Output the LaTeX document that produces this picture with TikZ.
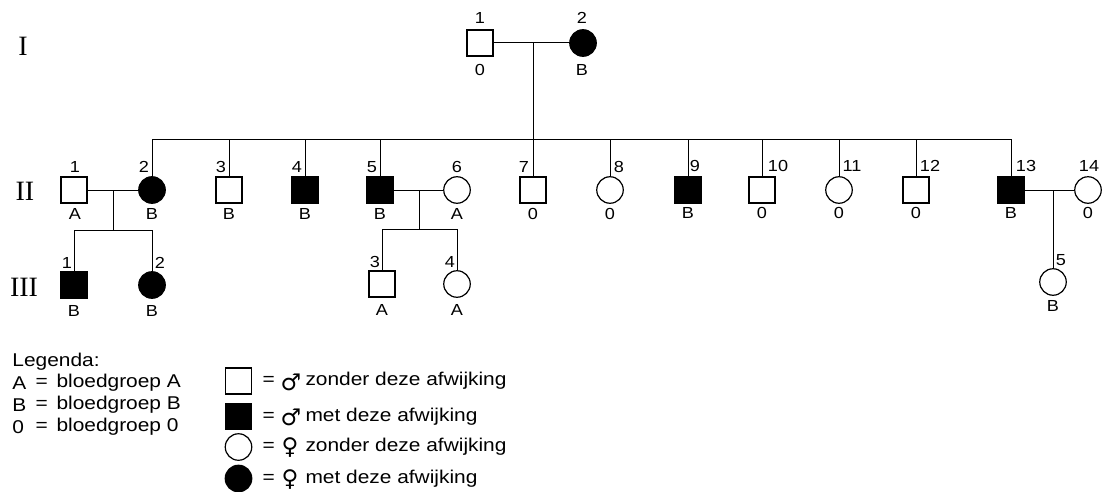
\documentclass[tikz,border=0pt]{standalone}
\usepackage{fontspec}
\setmainfont{Liberation Sans}[FakeStretch=1.13]
\newfontfamily\romfont{Liberation Serif}
\newfontfamily\symfont{DejaVu Sans}
\begin{document}
\begin{tikzpicture}[x=1pt,y=-1pt,
  line width=1pt,
  male/.style={draw,line width=1.2pt,rectangle,minimum size=26pt,inner sep=0pt,fill=white},
  female/.style={draw,line width=1.2pt,circle,minimum size=26.5pt,inner sep=0pt,fill=white},
  aff/.style={fill=black},
  num/.style={font=\fontsize{16}{16}\selectfont,inner sep=0pt},
  gen/.style={font=\romfont\fontsize{28}{28}\selectfont,inner sep=0pt},
  leg/.style={font=\fontsize{18.5}{18.5}\selectfont,inner sep=0pt,anchor=west},
  sym/.style={font=\symfont\fontsize{23}{23}\selectfont,inner sep=0pt,anchor=west},
]
\useasboundingbox (0,0) rectangle (1102,492);
\fill[white] (0,0) rectangle (1102,492);

% generation labels
\node[gen] (gI) at (23,46) {I};
\node[gen] (gII) at (25,191) {II};
\node[gen] (gIII) at (24,287) {III};

% ---------- Generation I
\node[male] (I1) at (480,43) {};
\node[female,aff] (I2) at (583,43) {};
\node[num] (nI1) at (480,18) {1};
\node[num] (bI1) at (480,70) {0};
\node[num] (nI2) at (582,18) {2};
\node[num] (bI2) at (582,70) {B};

% ---------- Generation II
\node[male] (II1) at (74,190) {};
\node[female,aff] (II2) at (152,190) {};
\node[male] (II3) at (229,190) {};
\node[male,aff] (II4) at (305,190) {};
\node[male,aff] (II5) at (380,190) {};
\node[female] (II6) at (457,190) {};
\node[male] (II7) at (533,190) {};
\node[female] (II8) at (610,190) {};
\node[male,aff] (II9) at (688,190) {};
\node[male] (II10) at (762,190) {};
\node[female] (II11) at (839,190) {};
\node[male] (II12) at (916,190) {};
\node[male,aff] (II13) at (1011,190) {};
\node[female] (II14) at (1088,190) {};

\node[num] (nII1) at (75,167) {1};
\node[num] (nII2) at (144,167) {2};
\node[num] (nII3) at (221,167) {3};
\node[num] (nII4) at (297,167) {4};
\node[num] (nII5) at (372,167) {5};
\node[num] (nII6) at (457,167) {6};
\node[num] (nII7) at (524,167) {7};
\node[num] (nII8) at (619,167) {8};
\node[num] (nII9) at (695,166) {9};
\node[num] (nII10) at (778,166) {10};
\node[num] (nII11) at (852,166) {11};
\node[num] (nII12) at (930,166) {12};
\node[num] (nII13) at (1026,166) {13};
\node[num] (nII14) at (1089,166) {14};

\node[num] (bII1) at (75,214) {A};
\node[num] (bII2) at (152,214) {B};
\node[num] (bII3) at (229,214) {B};
\node[num] (bII4) at (305,214) {B};
\node[num] (bII5) at (380,214) {B};
\node[num] (bII6) at (457,214) {A};
\node[num] (bII7) at (533,214) {0};
\node[num] (bII8) at (610,214) {0};
\node[num] (bII9) at (688,213) {B};
\node[num] (bII10) at (762,213) {0};
\node[num] (bII11) at (839,213) {0};
\node[num] (bII12) at (916,213) {0};
\node[num] (bII13) at (1011,213) {B};
\node[num] (bII14) at (1088,213) {0};

% ---------- Generation III
\node[male,aff] (III1) at (74,285) {};
\node[female,aff] (III2) at (152,285) {};
\node[male] (III3) at (382,284) {};
\node[female] (III4) at (457,284) {};
\node[female] (III5) at (1053,282) {};

\node[num] (nIII1) at (67,263) {1};
\node[num] (nIII2) at (160,263) {2};
\node[num] (nIII3) at (375,262) {3};
\node[num] (nIII4) at (450,262) {4};
\node[num] (nIII5) at (1061,260) {5};

\node[num] (bIII1) at (74,311) {B};
\node[num] (bIII2) at (152,311) {B};
\node[num] (bIII3) at (382,310) {A};
\node[num] (bIII4) at (457,310) {A};
\node[num] (bIII5) at (1053,306) {B};

% ---------- connectors
\coordinate (mI) at (533,43);
\coordinate (sI) at (533,139);
\draw (I1.east) -- (I2.west);
\draw (mI) -- (sI);
\draw (II2.north |- sI) -- (II13.north |- sI);
\foreach \c in {II2,II3,II4,II5,II7,II8,II9,II10,II11,II12,II13}
  \draw (\c.north) -- (\c.north |- sI);

\coordinate (m12) at (113,190);
\coordinate (s12) at (113,230);
\draw (II1.east) -- (II2.west);
\draw (m12) -- (s12);
\draw (III1.north |- s12) -- (III2.north |- s12);
\draw (III1.north) -- (III1.north |- s12);
\draw (III2.north) -- (III2.north |- s12);

\coordinate (m56) at (419,190);
\coordinate (s56) at (419,229);
\draw (II5.east) -- (II6.west);
\draw (m56) -- (s56);
\draw (III3.north |- s56) -- (III4.north |- s56);
\draw (III3.north) -- (III3.north |- s56);
\draw (III4.north) -- (III4.north |- s56);

\coordinate (m1314) at (1053,190);
\draw (II13.east) -- (II14.west);
\draw (m1314) -- (III5.north);

% ---------- legend
\node[leg] (lg) at (12,362) {Legenda:};
\node[leg] (lA) at (12,383) {A};
\node[leg] (lAe) at (35,383) {=};
\node[leg] (lAt) at (56,383) {bloedgroep A};
\node[leg] (lB) at (12,405) {B};
\node[leg] (lBe) at (35,405) {=};
\node[leg] (lBt) at (56,405) {bloedgroep B};
\node[leg] (l0) at (12,427) {0};
\node[leg] (l0e) at (35,427) {=};
\node[leg] (l0t) at (56,427) {bloedgroep 0};

\node[male] (k1) at (238.5,381) {};
\node[male,aff] (k2) at (238.5,416.5) {};
\node[female] (k3) at (238.5,447) {};
\node[female,aff] (k4) at (238.5,478.5) {};
\foreach \k/\y in {1/381,2/416.5,3/447,4/478.5}
  \node[leg] (e\k) at (262,\y) {=};
\node[sym] (s1) at (280,382) {♂};
\node[sym] (s2) at (280,417.5) {♂};
\node[sym] (s3) at (281,448) {♀};
\node[sym] (s4) at (281,479.5) {♀};
\node[leg] (t1) at (305,381) {zonder deze afwijking};
\node[leg] (t2) at (305,416.5) {met deze afwijking};
\node[leg] (t3) at (305,447) {zonder deze afwijking};
\node[leg] (t4) at (305,478.5) {met deze afwijking};
\end{tikzpicture}
\end{document}
